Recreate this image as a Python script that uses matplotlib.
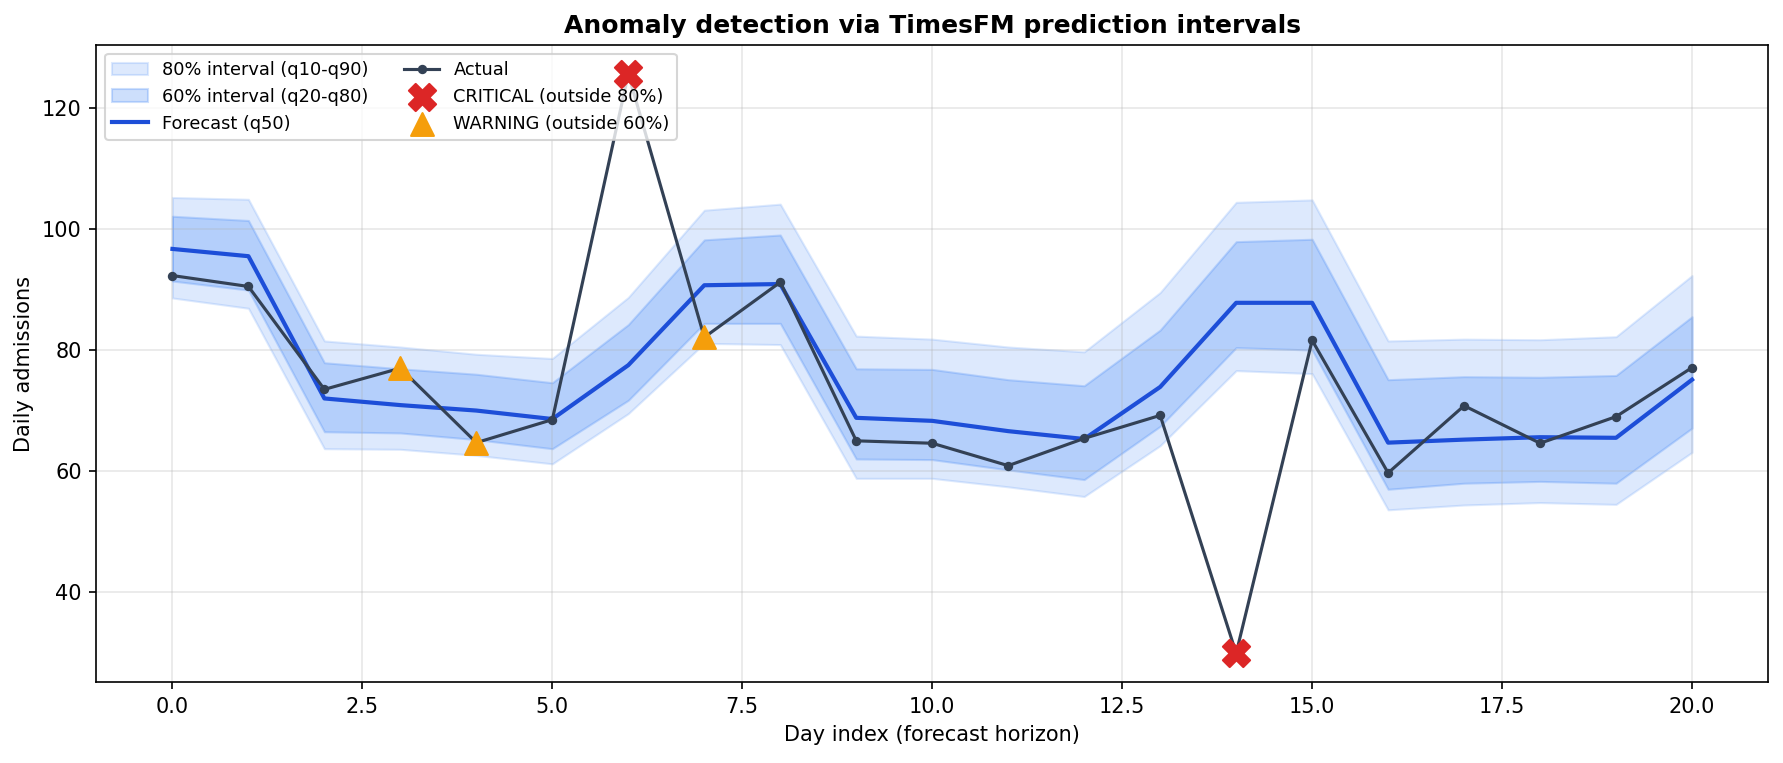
import numpy as np
import matplotlib
matplotlib.use("Agg")
import matplotlib.pyplot as plt

# forecast horizon (days) and TimesFM quantiles
days = np.arange(21)
q10 = [88.6, 86.9, 63.7, 63.6, 62.6, 61.2, 69.5, 81.1, 80.9, 58.8, 58.8,
       57.4, 55.8, 64.2, 76.6, 76.1, 53.6, 54.4, 54.8, 54.5, 63.1]
q20 = [91.4, 89.9, 66.5, 66.3, 65.2, 63.7, 71.7, 84.4, 84.4, 62.0, 61.9,
       60.2, 58.6, 67.4, 80.4, 80.0, 57.0, 58.0, 58.3, 58.0, 67.1]
q50 = [96.7, 95.5, 72.0, 70.9, 70.0, 68.6, 77.5, 90.7, 90.9, 68.8, 68.3,
       66.6, 65.3, 73.9, 87.8, 87.8, 64.7, 65.2, 65.6, 65.5, 75.1]
q80 = [102.1, 101.4, 77.9, 76.9, 76.0, 74.6, 84.2, 98.2, 99.0, 76.9, 76.8,
       75.1, 74.1, 83.3, 97.9, 98.3, 75.1, 75.6, 75.5, 75.8, 85.5]
q90 = [105.2, 104.9, 81.5, 80.5, 79.3, 78.6, 88.7, 103.1, 104.1, 82.3, 81.8,
       80.5, 79.7, 89.5, 104.4, 104.8, 81.5, 81.8, 81.7, 82.2, 92.3]
actual = [92.3, 90.5, 73.5, 77.0, 64.7, 68.5, 125.6, 82.1, 91.2, 65.0, 64.6,
          60.9, 65.4, 69.2, 29.9, 81.6, 59.7, 70.8, 64.6, 69.0, 77.1]

critical_days = [6, 14]
warning_days = [3, 4, 7]

actual = np.array(actual)

fig = plt.figure(figsize=(1783 / 150, 763 / 150), dpi=150)
ax = fig.add_axes([0.0541, 0.1058, 0.9375, 0.8352])

ax.fill_between(days, q10, q90, color="#3b82f6", alpha=0.17,
                label="80% interval (q10-q90)")
ax.fill_between(days, q20, q80, color="#3b82f6", alpha=0.25,
                label="60% interval (q20-q80)")
ax.plot(days, q50, color="#1d4ed8", lw=2, label="Forecast (q50)")
ax.plot(days, actual, color="#334155", lw=1.5, marker="o", ms=3.5,
        label="Actual")
ax.scatter(critical_days, actual[critical_days], marker="X", s=170,
           color="#dc2626", zorder=6, label="CRITICAL (outside 80%)")
ax.scatter(warning_days, actual[warning_days], marker="^", s=120,
           color="#f59e0b", zorder=6, label="WARNING (outside 60%)")

ax.set_title("Anomaly detection via TimesFM prediction intervals",
             fontsize=12, fontweight="bold")
ax.set_xlabel("Day index (forecast horizon)")
ax.set_ylabel("Daily admissions")
ax.grid(alpha=0.3)
ax.legend(loc="upper left", ncol=2, fontsize=8.5)

fig.savefig("out.png", dpi=150)
